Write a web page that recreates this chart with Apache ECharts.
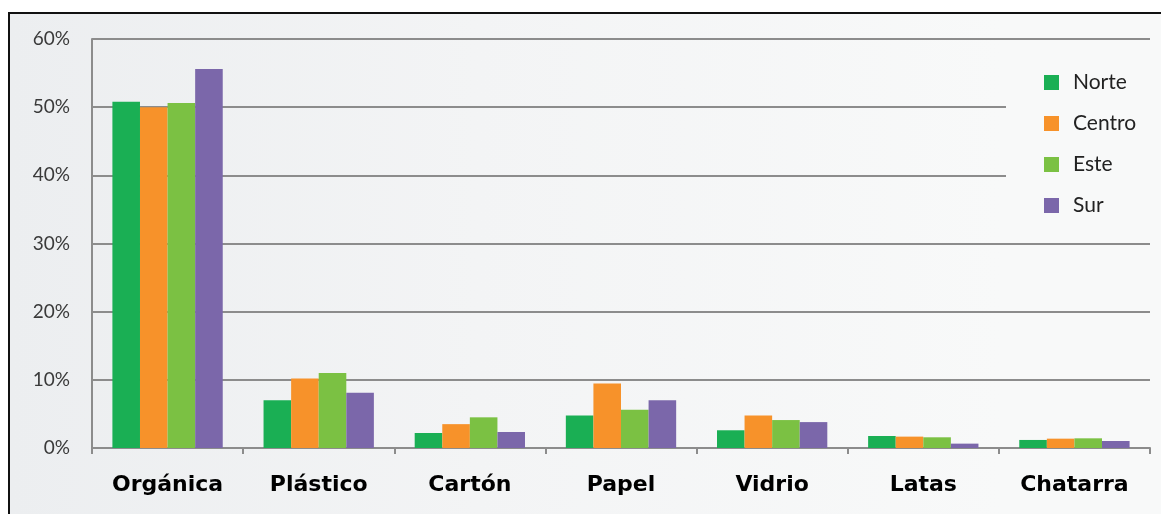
<!DOCTYPE html>
<html>
<head>
<meta charset="utf-8">
<script src="https://cdn.jsdelivr.net/npm/echarts@6/dist/echarts.min.js"></script>
<style>
  html, body { margin: 0; padding: 0; background: #ffffff; overflow: hidden; }
  #frame {
    position: absolute; left: 8px; top: 12px; width: 1170px; height: 520px;
    border: 2px solid #111; box-sizing: border-box;
    background: linear-gradient(to right, #eceef0 0%, #f3f4f5 40%, #f8f9f9 85%, #f8f9f9 100%);
  }
  #chart { position: absolute; left: 0; top: 0; width: 1161px; height: 514px; }
</style>
</head>
<body>
<div id="frame"></div>
<div id="chart"></div>
<script>
// Composición de residuos por zona (%)
const categories = ['Orgánica', 'Plástico', 'Cartón', 'Papel', 'Vidrio', 'Latas', 'Chatarra'];
const norte  = [50.8, 7.0, 2.2, 4.75, 2.6, 1.76, 1.18];
const centro = [50.0, 10.2, 3.5, 9.45, 4.75, 1.67, 1.37];
const este   = [50.6, 11.0, 4.5, 5.6, 4.1, 1.57, 1.42];
const sur    = [55.6, 8.1, 2.35, 7.0, 3.8, 0.64, 1.03];
const seriesNames = ['Norte', 'Centro', 'Este', 'Sur'];
const seriesColors = ['#1aaf54', '#f7922a', '#7bc143', '#7b67aa'];
const yTicks = [0, 10, 20, 30, 40, 50, 60];

const chart = echarts.init(document.getElementById('chart'), null, { renderer: 'canvas' });
const seriesData = [norte, centro, este, sur];

chart.setOption({
  backgroundColor: 'transparent',
  animation: false,
  grid: { left: 92, right: 11, top: 39, bottom: 66, containLabel: false },
  legend: {
    orient: 'vertical',
    left: 1006,
    top: 54,
    padding: [18, 40, 18, 38],
    backgroundColor: '#f8f9f9',
    itemWidth: 15,
    itemHeight: 15,
    itemGap: 20,
    icon: 'rect',
    data: seriesNames,
    textStyle: {
      fontFamily: 'Lato',
      fontSize: 21,
      color: '#222',
      lineHeight: 21,
      padding: [0, 0, 0, 9]
    }
  },
  xAxis: {
    type: 'category',
    data: categories,
    axisLine: { lineStyle: { color: '#8c8c8c', width: 2 } },
    axisTick: { show: true, length: 6, lineStyle: { color: '#8c8c8c', width: 2 } },
    axisLabel: {
      margin: 26,
      fontFamily: 'DejaVu Sans',
      fontWeight: 'bold',
      fontSize: 22,
      color: '#000'
    }
  },
  yAxis: {
    type: 'value',
    min: yTicks[0],
    max: yTicks[yTicks.length - 1],
    interval: 10,
    axisLine: { show: true, lineStyle: { color: '#8c8c8c', width: 2 } },
    axisTick: { show: false },
    splitLine: { lineStyle: { color: '#8c8c8c', width: 2 } },
    axisLabel: {
      margin: 22,
      fontFamily: 'Lato',
      fontSize: 19,
      color: '#3a3a3a',
      formatter: v => v + '%'
    }
  },
  series: seriesNames.map((name, i) => ({
    name,
    type: 'bar',
    data: seriesData[i],
    barGap: '0%',
    barCategoryGap: '27%',
    itemStyle: { color: seriesColors[i] }
  }))
});
</script>
</body>
</html>
